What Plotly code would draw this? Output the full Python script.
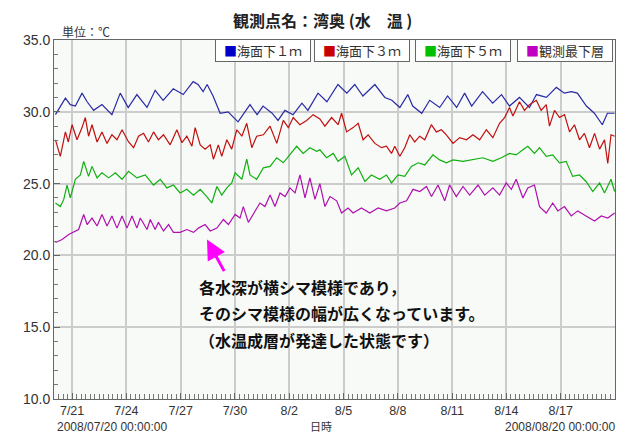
import pandas as pd
import plotly.graph_objects as go

START = "2008-07-20 00:00"
END = "2008-08-20 00:00"

series_names = ["海面下１ｍ", "海面下３ｍ", "海面下５ｍ", "観測最下層"]
series_colors = ["#2a2aa6", "#c01010", "#10b010", "#b010b0"]
swatch_colors = ["#0000c8", "#c80000", "#00c000", "#c000c0"]

# time in days since 2008/07/20 00:00, values in deg C
t_1m = [0.08, 0.63, 0.90, 1.18, 1.55, 1.83, 2.19, 2.65, 3.20, 3.66, 4.10, 4.58, 5.14, 5.59, 6.03, 6.59,
        7.14, 7.69, 7.96, 8.24, 8.46, 8.79, 9.18, 9.62, 10.17, 10.45, 10.83, 11.22, 11.55, 12.05, 12.38,
        12.76, 13.21, 13.70, 14.03, 14.59, 15.08, 15.69, 16.18, 16.62, 17.07, 17.73, 18.28, 18.67, 19.11,
        19.55, 19.82, 20.32, 20.76, 21.31, 21.75, 22.25, 22.69, 23.08, 23.68, 24.24, 24.73, 25.17, 25.72,
        26.27, 26.66, 27.21, 27.76, 28.20, 28.59, 28.92, 29.42, 29.86, 30.30, 30.58, 30.97]
v_1m = [29.8, 30.95, 30.5, 30.4, 31.3, 30.7, 30.1, 30.5, 29.8, 31.3, 30.3, 31.2, 30.3, 31.5, 30.8, 31.6,
        31.2, 32.1, 31.9, 31.4, 31.9, 31.1, 29.9, 30.0, 29.3, 29.8, 30.5, 29.8, 30.4, 29.9, 29.4,
        30.1, 29.8, 30.6, 30.1, 31.3, 30.7, 31.9, 31.3, 31.9, 31.1, 31.9, 31.0, 30.8, 30.3,
        31.2, 30.4, 29.9, 30.8, 30.3, 31.1, 30.3, 31.3, 30.4, 31.4, 30.6, 31.2, 30.4, 31.0,
        30.3, 31.2, 31.0, 31.7, 31.3, 31.4, 31.3, 30.4, 29.9, 29.1, 29.9, 29.9]

t_3m = [0.08, 0.35, 0.63, 0.79, 1.00, 1.27, 1.55, 1.73, 1.91, 2.10, 2.38, 2.65, 2.93, 3.20, 3.48, 3.76,
        4.12, 4.40, 4.67, 4.95, 5.22, 5.50, 5.77, 6.05, 6.42, 6.79, 7.07, 7.34, 7.62, 7.80, 8.08, 8.35,
        8.63, 8.81, 9.08, 9.27, 9.55, 9.82, 10.10, 10.38, 10.65, 10.93, 11.20, 11.57, 11.94, 12.31, 12.67,
        12.95, 13.22, 13.59, 13.96, 14.32, 14.69, 14.97, 15.34, 15.70, 15.89, 16.17, 16.53, 16.81, 17.08,
        17.36, 17.73, 18.10, 18.37, 18.65, 18.83, 19.11, 19.38, 19.66, 19.93, 20.21, 20.49, 20.85, 21.13,
        21.41, 21.68, 22.05, 22.42, 22.79, 23.15, 23.52, 23.89, 24.25, 24.62, 24.90, 25.17, 25.36, 25.72,
        26.00, 26.27, 26.65, 26.92, 27.20, 27.38, 27.66, 27.93, 28.21, 28.49, 28.76, 29.04, 29.31, 29.59,
        29.87, 30.15, 30.42, 30.60, 30.78, 30.98]
v_3m = [28.05, 26.9, 28.6, 27.9, 29.1, 28.05, 28.9, 29.6, 28.3, 29.1, 27.9, 28.6, 27.8, 28.4, 28.05, 28.75,
        27.9, 27.5, 28.3, 28.5, 27.9, 28.6, 28.05, 28.4, 27.7, 28.75, 27.85, 28.3, 27.6, 28.9, 27.7, 27.4,
        27.7, 26.7, 27.7, 26.9, 28.05, 27.4, 28.75, 28.3, 29.2, 27.5, 28.3, 28.4, 29.0, 27.8, 29.4,
        28.9, 29.6, 29.1, 29.4, 29.8, 29.5, 29.0, 29.6, 29.1, 29.9, 28.6, 28.9, 29.2, 28.05,
        28.4, 27.8, 27.5, 27.6, 27.1, 27.6, 26.9, 27.5, 28.4, 27.9, 28.3, 28.05, 29.1, 28.6,
        28.75, 28.4, 27.8, 28.2, 28.05, 28.4, 28.05, 28.75, 28.2, 29.2, 29.6, 30.3, 29.7, 30.7,
        30.1, 30.5, 30.8, 30.1, 30.5, 29.0, 30.1, 29.6, 29.8, 28.6, 29.1, 28.05, 28.5, 27.5,
        28.5, 27.4, 28.05, 26.4, 28.4, 28.3]

t_5m = [0.08, 0.35, 0.54, 0.72, 0.90, 1.18, 1.46, 1.64, 1.91, 2.10, 2.38, 2.65, 3.02, 3.39, 3.76, 4.12,
        4.58, 5.04, 5.50, 5.87, 6.24, 6.60, 6.97, 7.34, 7.71, 8.08, 8.44, 8.72, 9.00, 9.27, 9.55, 9.82,
        10.01, 10.38, 10.65, 10.83, 11.20, 11.57, 11.94, 12.31, 12.67, 13.04, 13.41, 13.77, 14.14, 14.51,
        14.69, 15.06, 15.43, 15.70, 16.07, 16.44, 16.81, 17.18, 17.54, 18.00, 18.37, 18.65, 19.01, 19.38,
        19.75, 20.12, 20.49, 20.94, 21.31, 21.68, 22.05, 22.60, 23.15, 23.70, 24.25, 24.72, 25.17, 25.54,
        25.91, 26.18, 26.55, 26.83, 27.20, 27.56, 27.93, 28.30, 28.66, 29.04, 29.40, 29.77, 30.15, 30.42,
        30.78, 30.98]
v_5m = [23.65, 23.4, 23.9, 24.9, 24.0, 25.3, 25.6, 26.55, 25.5, 26.2, 25.4, 25.75, 25.4, 25.75, 25.3, 25.85,
        25.4, 25.6, 24.9, 25.3, 24.7, 24.9, 24.35, 24.6, 24.2, 24.6, 24.1, 23.65, 24.8, 24.2, 24.7, 25.05,
        25.75, 25.3, 26.7, 25.6, 25.3, 26.1, 26.2, 26.8, 26.45, 27.0, 27.6, 27.1, 27.5, 27.25,
        27.35, 26.8, 27.1, 26.55, 26.9, 25.6, 26.1, 25.15, 25.6, 25.3, 25.6, 25.05, 25.6, 25.5,
        26.2, 26.45, 26.3, 27.0, 26.65, 26.45, 26.65, 26.55, 26.65, 26.8, 26.55, 26.8, 27.1, 27.0,
        27.35, 27.6, 27.1, 27.5, 26.9, 27.0, 26.45, 26.55, 25.5, 25.6, 25.15, 24.45, 25.05, 24.35,
        25.3, 24.45]

t_bottom = [0.08, 0.45, 0.81, 1.09, 1.36, 1.64, 1.83, 2.10, 2.38, 2.65, 2.93, 3.20, 3.48, 3.76, 4.03, 4.31,
            4.58, 4.77, 5.14, 5.32, 5.59, 5.77, 6.05, 6.33, 6.60, 6.97, 7.34, 7.71, 7.98, 8.35, 8.63, 9.00,
            9.36, 9.64, 10.01, 10.28, 10.46, 10.74, 11.02, 11.38, 11.66, 11.94, 12.21, 12.49, 12.77, 13.04,
            13.32, 13.59, 13.87, 14.14, 14.42, 14.69, 14.97, 15.25, 15.62, 15.89, 16.25, 16.53, 16.99, 17.45,
            17.91, 18.37, 18.83, 19.11, 19.48, 19.84, 20.21, 20.58, 20.86, 21.22, 21.59, 21.86, 22.23, 22.60,
            22.97, 23.43, 23.80, 24.25, 24.62, 24.99, 25.27, 25.54, 25.91, 26.18, 26.55, 26.83, 27.20, 27.56,
            27.84, 28.21, 28.58, 28.94, 29.40, 29.87, 30.24, 30.60, 30.98]
v_bottom = [20.9, 21.1, 21.45, 21.6, 21.8, 22.85, 22.15, 22.6, 22.05, 22.85, 22.05, 22.75, 21.9, 22.75, 21.9, 22.75,
            21.9, 22.6, 21.8, 22.5, 21.8, 22.3, 21.7, 22.15, 21.6, 21.6, 21.8, 21.6, 21.9, 22.15, 21.7, 21.9,
            22.5, 22.15, 22.85, 22.6, 23.4, 22.3, 22.85, 23.65, 23.4, 24.2, 23.4, 24.35, 24.1, 24.7,
            24.35, 25.6, 24.0, 25.4, 23.9, 25.0, 23.4, 24.1, 23.8, 22.95, 23.3, 22.95, 23.3, 22.95,
            23.3, 23.1, 23.3, 23.65, 23.8, 24.6, 24.45, 24.8, 24.1, 24.9, 23.8, 24.9, 24.1, 24.8,
            24.2, 24.9, 24.2, 24.7, 24.2, 25.05, 24.6, 25.3, 24.0, 24.7, 24.9, 23.4, 22.95, 23.65,
            23.1, 23.4, 22.75, 23.1, 22.75, 22.4, 22.75, 22.6, 22.95]

note_lines = ["各水深が横シマ模様であり，",
              "そのシマ模様の幅が広くなっています。",
              "（水温成層が発達した状態です）"]

t0 = pd.Timestamp(START)
def to_time(days):
    return t0 + pd.to_timedelta(pd.Series(days), unit="D")

fig = go.Figure()
for name, color, t, v in zip(series_names, series_colors,
                             [t_1m, t_3m, t_5m, t_bottom], [v_1m, v_3m, v_5m, v_bottom]):
    fig.add_trace(go.Scatter(x=to_time(t), y=v, mode="lines", name=name,
                             line=dict(color=color, width=1.2), showlegend=False))

JP = "Noto Sans CJK JP"
ann = []
ann.append(dict(text="<b>観測点名：湾奥 (水　温 )</b>", xref="paper", yref="paper", x=0.4795, y=1.0557,
                xanchor="center", yanchor="middle", showarrow=False,
                font=dict(family=JP, size=16, color="#222")))
ann.append(dict(text="単位：℃", xref="paper", yref="paper", x=0.011, y=1.025,
                xanchor="left", yanchor="middle", showarrow=False,
                font=dict(family=JP, size=12, color="#333")))
for name, sc, xc in zip(series_names, swatch_colors, [0.3725, 0.549, 0.729, 0.911]):
    ann.append(dict(text=f"<span style='color:{sc}'>■</span>{name}", xref="paper", yref="paper",
                    x=xc, y=0.9694, xanchor="center", yanchor="middle", showarrow=False,
                    font=dict(family=JP, size=13, color="#333"), bgcolor="white",
                    bordercolor="#666", borderwidth=1, borderpad=1, width=92))
for line, yy in zip(note_lines, [0.311, 0.239, 0.164]):
    ann.append(dict(text=f"<b>{line}</b>", xref="paper", yref="paper", x=0.255, y=yy,
                    xanchor="left", yanchor="middle", showarrow=False,
                    font=dict(family=JP, size=16, color="#111")))
ann.append(dict(text="", xref="paper", yref="paper", x=0.2727, y=0.444, ax=18, ay=33,
                showarrow=True, arrowhead=2, arrowsize=1.3, arrowwidth=3, arrowcolor="#ff00ff"))
ann.append(dict(text="2008/07/20 00:00:00", xref="paper", yref="paper", x=0.002, y=-0.053,
                xanchor="left", yanchor="top", showarrow=False,
                font=dict(family="Liberation Sans", size=12, color="#333")))
ann.append(dict(text="2008/08/20 00:00:00", xref="paper", yref="paper", x=1.0036, y=-0.053,
                xanchor="right", yanchor="top", showarrow=False,
                font=dict(family="Liberation Sans", size=12, color="#333")))
ann.append(dict(text="日時", xref="paper", yref="paper", x=0.476, y=-0.074,
                xanchor="center", yanchor="middle", showarrow=False,
                font=dict(family=JP, size=11, color="#333")))

fig.update_layout(
    width=617, height=436,
    margin=dict(l=54, r=2, t=40, b=37),
    paper_bgcolor="white", plot_bgcolor="#f7faf6",
    font=dict(family="Liberation Sans, Arial", color="#333"),
    showlegend=False,
    annotations=ann,
)
fig.update_xaxes(type="date", range=[START, END], tick0="2008-07-21", dtick=259200000,
                 tickformat="%-m/%-d", ticks="inside", ticklen=6, tickcolor="#666",
                 showgrid=True, gridcolor="#cccccc", gridwidth=1.5,
                 showline=True, linecolor="#666", linewidth=1, mirror=True,
                 tickfont=dict(size=12.5, color="#333"),
                 minor=dict(dtick=21600000, ticks="inside", ticklen=5, tickcolor="#777", showgrid=False))
fig.update_yaxes(range=[10, 35], tick0=10, dtick=5, tickformat=".1f",
                 ticks="inside", ticklen=6, tickcolor="#666",
                 showgrid=True, gridcolor="#cccccc", gridwidth=1.5,
                 showline=True, linecolor="#666", linewidth=1, mirror=True,
                 tickfont=dict(size=14, color="#333"),
                 minor=dict(dtick=1, ticks="inside", ticklen=4, tickcolor="#777", showgrid=False))

fig.write_html("out.html", config={"displayModeBar": False},
               post_script="document.body.style.margin='0';document.body.style.overflow='hidden';")
